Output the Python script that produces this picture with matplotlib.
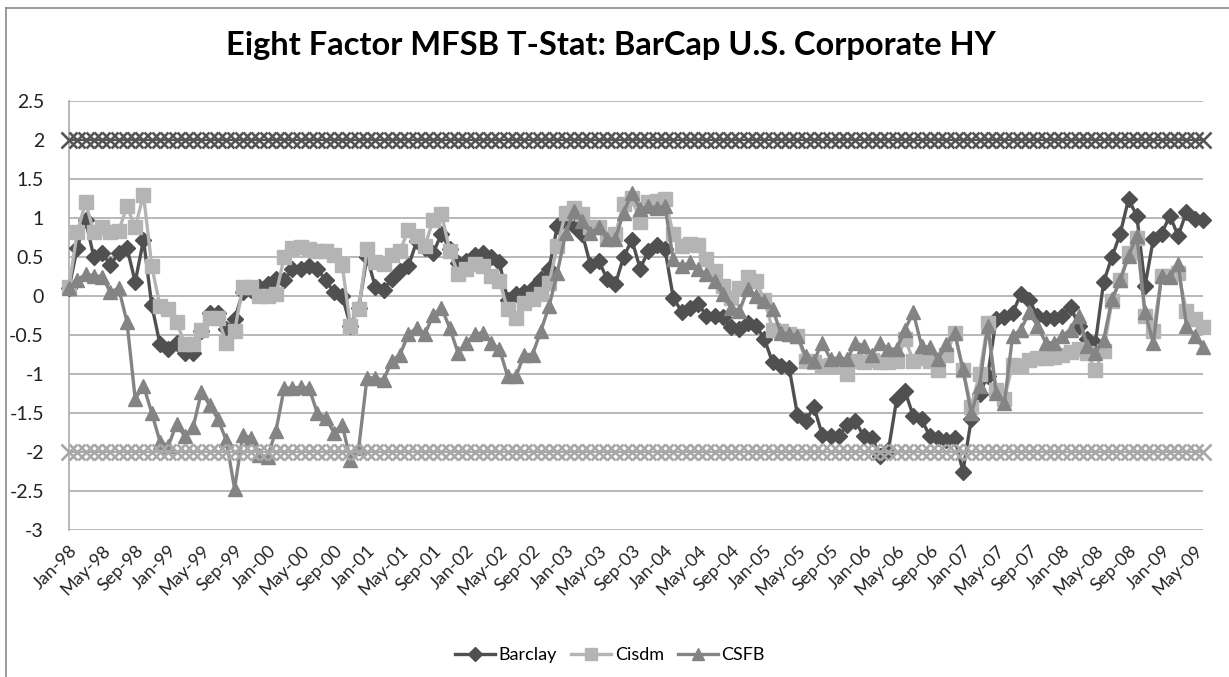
import matplotlib
matplotlib.use("Agg")
import matplotlib.pyplot as plt
from matplotlib.lines import Line2D
import numpy as np
import pandas as pd

plt.rcParams['font.family'] = ['Lato', 'DejaVu Sans']

months = pd.date_range('1998-01-01', periods=138, freq='MS')

barclay = [0.1, 0.62, 0.97, 0.5, 0.55, 0.4, 0.55, 0.62, 0.18, 0.72,
           -0.12, -0.62, -0.68, -0.6, -0.73, -0.73, -0.45, -0.22, -0.22, -0.42,
           -0.3, 0.05, 0.08, 0.12, 0.15, 0.22, 0.2, 0.35, 0.35, 0.38,
           0.35, 0.2, 0.05, 0.0, -0.38, -0.15, 0.5, 0.12, 0.08, 0.22,
           0.32, 0.38, 0.7, 0.62, 0.55, 0.8, 0.6, 0.42, 0.45, 0.52,
           0.55, 0.5, 0.43, -0.05, 0.02, 0.05, 0.1, 0.22, 0.35, 0.9,
           1.0, 0.9, 0.8, 0.4, 0.45, 0.22, 0.15, 0.5, 0.72, 0.35,
           0.58, 0.65, 0.6, -0.02, -0.2, -0.15, -0.1, -0.25, -0.25, -0.27,
           -0.4, -0.42, -0.35, -0.38, -0.55, -0.85, -0.9, -0.92, -1.52, -1.6,
           -1.42, -1.78, -1.8, -1.8, -1.65, -1.6, -1.8, -1.82, -2.05, -1.97,
           -1.32, -1.22, -1.54, -1.58, -1.8, -1.82, -1.85, -1.82, -2.25, -1.58,
           -1.25, -1.02, -0.3, -0.27, -0.22, 0.03, -0.05, -0.25, -0.28, -0.28,
           -0.25, -0.14, -0.38, -0.55, -0.6, 0.18, 0.5, 0.8, 1.24, 1.03,
           0.13, 0.73, 0.8, 1.03, 0.77, 1.08, 0.99, 0.97]

cisdm = [0.12, 0.82, 1.2, 0.82, 0.88, 0.82, 0.83, 1.15, 0.88, 1.3,
         0.38, -0.13, -0.17, -0.33, -0.62, -0.62, -0.43, -0.28, -0.28, -0.6,
         -0.45, 0.12, 0.12, 0.0, 0.0, 0.02, 0.5, 0.62, 0.63, 0.6,
         0.58, 0.58, 0.53, 0.4, -0.38, -0.17, 0.6, 0.43, 0.41, 0.53,
         0.58, 0.85, 0.77, 0.64, 0.98, 1.05, 0.58, 0.28, 0.34, 0.41,
         0.38, 0.26, 0.19, -0.17, -0.28, -0.09, -0.04, 0.02, 0.17, 0.64,
         1.07, 1.13, 1.05, 0.88, 0.88, 0.75, 0.79, 1.18, 1.26, 0.95,
         1.2, 1.22, 1.25, 0.79, 0.64, 0.67, 0.65, 0.47, 0.32, 0.13,
         -0.02, 0.1, 0.24, 0.19, -0.05, -0.43, -0.45, -0.49, -0.51, -0.83,
         -0.85, -0.9, -0.88, -0.9, -1.0, -0.83, -0.85, -0.82, -0.85, -0.85,
         -0.83, -0.55, -0.83, -0.8, -0.83, -0.95, -0.75, -0.47, -0.95, -1.42,
         -1.0, -0.35, -1.2, -1.32, -0.88, -0.9, -0.82, -0.8, -0.8, -0.78,
         -0.75, -0.72, -0.68, -0.73, -0.95, -0.7, -0.06, 0.21, 0.55, 0.75,
         -0.26, -0.45, 0.26, 0.26, 0.3, -0.19, -0.3, -0.4]

csfb = [0.1, 0.2, 0.28, 0.26, 0.25, 0.05, 0.1, -0.33, -1.32, -1.15,
        -1.5, -1.87, -1.92, -1.64, -1.8, -1.68, -1.23, -1.4, -1.58, -1.85,
        -2.47, -1.78, -1.82, -2.04, -2.06, -1.73, -1.18, -1.18, -1.17, -1.18,
        -1.5, -1.56, -1.75, -1.65, -2.1, -1.95, -1.05, -1.05, -1.08, -0.83,
        -0.75, -0.49, -0.41, -0.49, -0.24, -0.15, -0.41, -0.73, -0.6, -0.49,
        -0.47, -0.6, -0.68, -1.03, -1.03, -0.75, -0.75, -0.45, -0.13, 0.3,
        0.81, 1.09, 0.96, 0.81, 0.88, 0.73, 0.73, 1.07, 1.32, 1.11,
        1.15, 1.13, 1.15, 0.47, 0.38, 0.43, 0.34, 0.28, 0.19, 0.02,
        -0.15, -0.19, 0.09, 0.0, -0.06, -0.17, -0.47, -0.49, -0.51, -0.77,
        -0.83, -0.6, -0.81, -0.79, -0.81, -0.6, -0.64, -0.75, -0.6, -0.68,
        -0.68, -0.43, -0.21, -0.64, -0.66, -0.81, -0.62, -0.47, -0.94, -1.5,
        -1.15, -0.38, -1.24, -1.37, -0.51, -0.43, -0.21, -0.38, -0.6, -0.6,
        -0.51, -0.43, -0.26, -0.64, -0.73, -0.56, -0.04, 0.2, 0.51, 0.77,
        -0.21, -0.6, 0.26, 0.24, 0.41, -0.38, -0.51, -0.66]

upper_bound = 2.0
lower_bound = -2.0

tick_labels = ['Jan-98', 'May-98', 'Sep-98', 'Jan-99', 'May-99', 'Sep-99', 'Jan-00',
               'May-00', 'Sep-00', 'Jan-01', 'May-01', 'Sep-01', 'Jan-02', 'May-02',
               'Sep-02', 'Jan-03', 'May-03', 'Sep-03', 'Jan-04', 'May-04', 'Sep-04',
               'Jan-05', 'May-05', 'Sep-05', 'Jan-06', 'May-06', 'Sep-06', 'Jan-07',
               'May-07', 'Sep-07', 'Jan-08', 'May-08', 'Sep-08', 'Jan-09', 'May-09']
y_ticks = [2.5, 2, 1.5, 1, 0.5, 0, -0.5, -1, -1.5, -2, -2.5, -3]

W, H = 1229, 677
fig = plt.figure(figsize=(W / 100, H / 100), dpi=100)
fig.patch.set_facecolor('white')

L, R, T, B = 69, 1203, 101, 530
ax = fig.add_axes([L / W, 1 - B / H, (R - L) / W, (B - T) / H])

x = np.arange(len(months))

ax.plot(x, barclay, color='#505050', lw=2.4, marker='D', ms=8, mec='#505050',
        mfc='#505050', zorder=3, clip_on=False, label='Barclay')
ax.plot(x, cisdm, color='#B4B4B4', lw=2.4, marker='s', ms=9.5, mec='#B4B4B4',
        mfc='#B4B4B4', zorder=4, clip_on=False, label='Cisdm')
ax.plot(x, csfb, color='#848484', lw=2.4, marker='^', ms=10.5, mec='#848484',
        mfc='#848484', zorder=5, clip_on=False, label='CSFB')

ax.plot(x, [upper_bound] * len(x), color='#555555', lw=1.5, marker='x', ms=12,
        mew=1.9, zorder=6, clip_on=False)
ax.plot(x, [lower_bound] * len(x), color='#A8A8A8', lw=1.5, marker='x', ms=12,
        mew=1.9, zorder=6, clip_on=False)

ax.set_xlim(0, len(x) - 1)
ax.set_ylim(-3, 2.5)
ax.set_yticks(y_ticks)
ax.set_yticklabels([f'{v:g}' for v in y_ticks])
ax.yaxis.grid(True, color='#ABABAB', lw=1.2)
ax.set_axisbelow(True)
for s in ['top', 'right', 'bottom']:
    ax.spines[s].set_visible(False)
ax.spines['left'].set_color('#ABABAB')
ax.spines['left'].set_linewidth(1.2)
ax.tick_params(axis='y', length=0, pad=18, labelsize=14, labelcolor='#222222')

tick_pos = x[::4]
ax.set_xticks(tick_pos)
ax.set_xticklabels(tick_labels[:len(tick_pos)], rotation=45, ha='right', va='top',
                   rotation_mode='anchor', fontsize=13, color='#222222')
ax.tick_params(axis='x', length=0, pad=9)

fig.text(0.497, 1 - 45 / H, 'Eight Factor MFSB T-Stat: BarCap U.S. Corporate HY',
         ha='center', va='center', fontsize=23.5, fontweight='bold', color='black')

leg = fig.legend(handles=ax.get_lines()[:3], labels=['Barclay', 'Cisdm', 'CSFB'],
                 loc='center', bbox_to_anchor=(610 / W, 1 - 655 / H), ncol=3,
                 frameon=False, fontsize=13, handlelength=2.2, columnspacing=0.8,
                 handletextpad=0.2, markerscale=0.85)

fig.add_artist(Line2D([6 / W, 6 / W], [0, 1 - 8 / H], color='#8A8A8A', lw=1.2))
fig.add_artist(Line2D([6 / W, 1], [1 - 8 / H, 1 - 8 / H], color='#8A8A8A', lw=1.2))

fig.savefig('out.png', dpi=100)
